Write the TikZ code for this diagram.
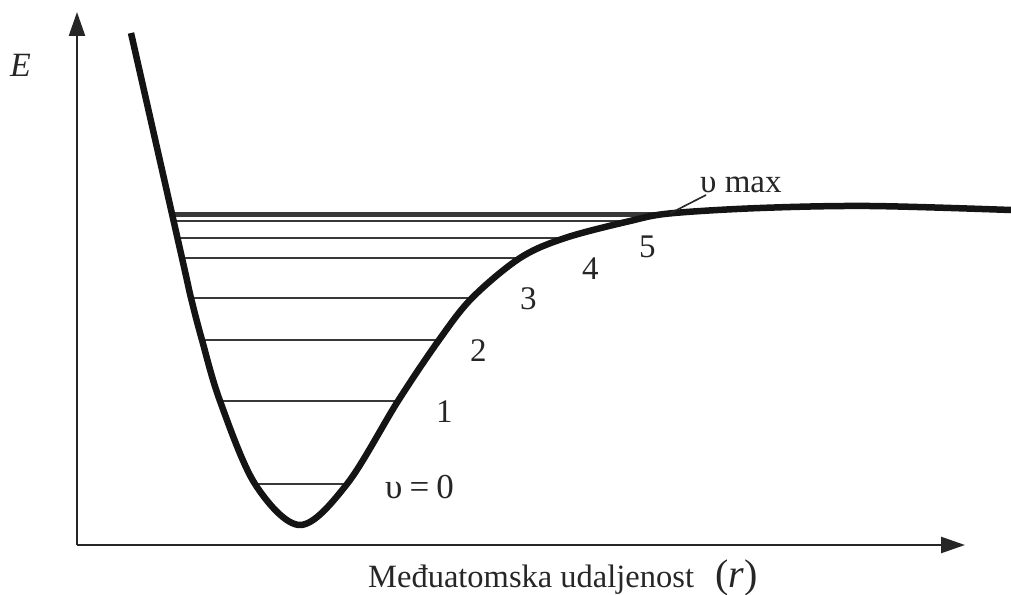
\documentclass[tikz,border=0pt]{standalone}
\usepackage{fontspec}
\setmainfont{Liberation Serif}
\usetikzlibrary{arrows.meta}
\begin{document}
\begin{tikzpicture}[x=1pt,y=-1pt,
  axis/.style={line width=2.4pt,black!85,-{Triangle[length=24pt,width=16pt]}},
  curve/.style={line width=6.5pt,line join=round,line cap=butt,black!92},
  level/.style={line width=2.2pt,black!78},
  lbl/.style={font=\fontsize{33}{40}\selectfont,text=black!85,inner sep=0pt,anchor=base west}]
\useasboundingbox (0,0) rectangle (1011,594);
% axes
\coordinate (O) at (77,545);
\coordinate (ytip) at (77,12);
\coordinate (xtip) at (965,545);
\draw[axis] (O) -- (ytip);
\draw[axis] (O) -- (xtip);
% vibrational levels
\coordinate (l0) at (255,484);  \coordinate (r0) at (347,484);
\coordinate (l1) at (220,401);  \coordinate (r1) at (398,401);
\coordinate (l2) at (202,340);  \coordinate (r2) at (439,340);
\coordinate (l3) at (191,298);  \coordinate (r3) at (472,298);
\coordinate (l4) at (182,258);  \coordinate (r4) at (520,258);
\coordinate (l5) at (178,238);  \coordinate (r5) at (565,238);
\coordinate (l6) at (174,221);  \coordinate (r6) at (630,221);
\coordinate (l7) at (172,215.8);\coordinate (r7) at (662,215.8);
\coordinate (l8) at (172,213.4);\coordinate (r8) at (670,213.4);
\foreach \i in {0,...,8}{\draw[level] (l\i) -- (r\i);}
% potential curve
\draw[curve] plot[smooth,tension=0.55] coordinates {
  (131,33) (182,258) (191,298) (202,340) (220,401) (255,484) (300,525)
  (347,484) (398,401) (439,340) (472,298) (520,258) (565,238) (630,221)
  (670,213.4) (760,208) (870,206) (1011,210)};
% labels
\node[lbl,font=\fontsize{34}{40}\selectfont\itshape] (E) at (10,77) {E};
\node[lbl,font=\fontsize{35}{40}\selectfont] (v0) at (385,498) {υ\hspace{7pt}=\hspace{7pt}0};
\node[lbl] (n1) at (436,422) {1};
\node[lbl] (n2) at (470,361) {2};
\node[lbl] (n3) at (520,309) {3};
\node[lbl] (n4) at (582,279) {4};
\node[lbl] (n5) at (639,257) {5};
\node[lbl] (vmax) at (700,192) {υ max};
\coordinate (lead) at (706,195);
\draw[line width=1.6pt,black!85] (r8) -- (lead);
\node[lbl,font=\fontsize{32.5}{38}\selectfont] (xl) at (368,587) {Međuatomska udaljenost\hspace{21pt}{\fontsize{40}{44}\selectfont(\textit{r})}};
\end{tikzpicture}
\end{document}
